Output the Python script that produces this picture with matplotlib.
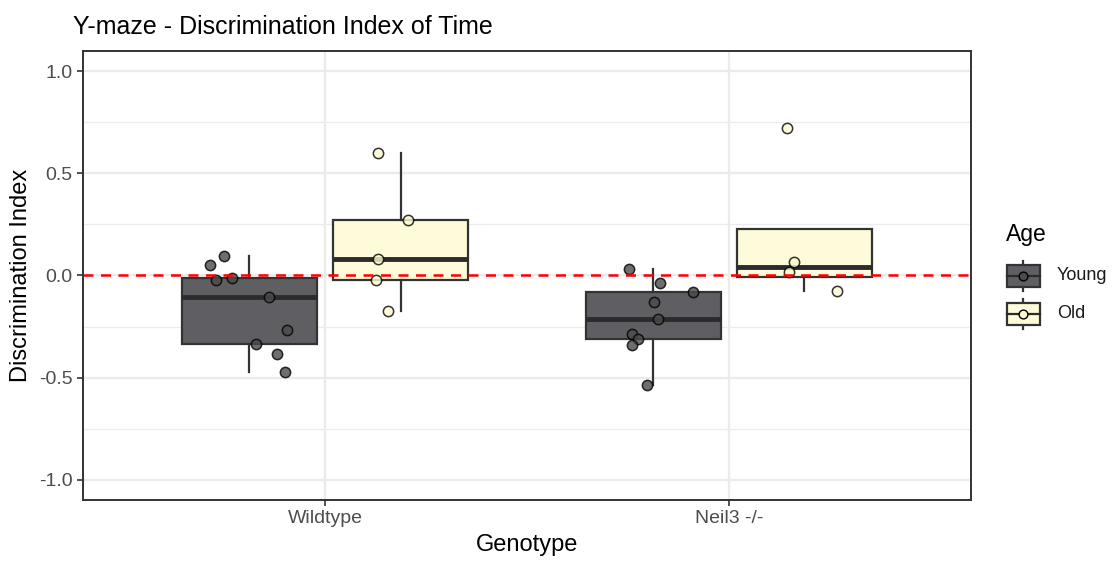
import matplotlib
matplotlib.use("Agg")
from matplotlib import pyplot as plt
from matplotlib.patches import Rectangle
import numpy as np

plt.rcParams['font.family'] = ['Liberation Sans', 'DejaVu Sans']

genotypes = ['Wildtype', 'Neil3 -/-']
ages = ['Young', 'Old']

# discrimination index per animal
wt_young = [0.050, 0.096, -0.021, -0.010, -0.106, -0.266, -0.334, -0.383, -0.475]
wt_old = [0.601, 0.273, 0.080, -0.023, -0.176]
neil_young = [0.034, -0.038, -0.083, -0.129, -0.214, -0.289, -0.310, -0.341, -0.537]
neil_old = [0.721, 0.064, 0.018, -0.075]

# horizontal jitter of each point (x units from genotype centre)
wt_young_jit = [-0.286, -0.251, -0.270, -0.231, -0.140, -0.094, -0.172, -0.119, -0.099]
wt_old_jit = [0.132, 0.206, 0.132, 0.127, 0.155]
neil_young_jit = [-0.247, -0.170, -0.089, -0.186, -0.176, -0.241, -0.224, -0.239, -0.203]
neil_old_jit = [0.145, 0.161, 0.150, 0.269]

groups = [
    (1, 'Young', wt_young, wt_young_jit),
    (1, 'Old', wt_old, wt_old_jit),
    (2, 'Young', neil_young, neil_young_jit),
    (2, 'Old', neil_old, neil_old_jit),
]

box_fill = {'Young': '#5f5f63', 'Old': '#fdfbd9'}
pt_fill = {'Young': '#4a4a4a', 'Old': '#fdfbd0'}
dodge = {'Young': -0.1875, 'Old': 0.1875}
edge = '#333333'

W, H = 1119, 561
fig = plt.figure(figsize=(W / 100, H / 100), dpi=100)
ax = fig.add_axes([83 / W, 1 - 500 / H, (971 - 83) / W, (500 - 51) / H])

for g, age, vals, jit in groups:
    pos = g + dodge[age]
    ax.boxplot([vals], positions=[pos], widths=0.335, whis=1.5,
               showfliers=False, showcaps=False, patch_artist=True,
               boxprops=dict(facecolor=box_fill[age], edgecolor=edge, linewidth=1.6),
               whiskerprops=dict(color=edge, linewidth=1.6),
               medianprops=dict(color='#2b2b2b', linewidth=3.5),
               zorder=3)

for g, age, vals, jit in groups:
    xs = g + np.array(jit)
    ax.scatter(xs, vals, s=55, facecolor=pt_fill[age], edgecolor='black',
               linewidth=1.1, alpha=0.8, zorder=5)

ax.axhline(0, color='#ff0000', linestyle=(0, (4, 3)), linewidth=1.8, zorder=6)

ax.set_xlim(0.4, 2.6)
ax.set_ylim(-1.1, 1.1)
ax.set_xticks([1, 2])
ax.set_xticklabels(genotypes)
ax.set_yticks([-1.0, -0.5, 0.0, 0.5, 1.0])
ax.set_yticklabels(['-1.0', '-0.5', '0.0', '0.5', '1.0'])
ax.set_yticks([-0.75, -0.25, 0.25, 0.75], minor=True)
ax.grid(True, which='major', color='#ebebeb', linewidth=1.6, zorder=0)
ax.grid(True, which='minor', axis='y', color='#ebebeb', linewidth=0.9, zorder=0)
ax.set_axisbelow(True)
ax.tick_params(axis='both', which='major', colors='#333333', labelcolor='#4d4d4d',
               labelsize=14, length=4, width=1.2)
ax.tick_params(axis='both', which='minor', length=0)
for s in ax.spines.values():
    s.set_color('#333333')
    s.set_linewidth(1.4)

ax.set_xlabel('Genotype', fontsize=17, labelpad=5)
ax.set_ylabel('Discrimination Index', fontsize=17, labelpad=5)
fig.text(73 / W, 1 - 34 / H, 'Y-maze - Discrimination Index of Time',
         fontsize=18, ha='left', va='baseline')

# legend drawn as small boxplot keys
fig.text(1006 / W, 1 - 234 / H, 'Age', fontsize=16.5, ha='left', va='center')
lax = fig.add_axes([1000 / W, 1 - 335 / H, 119 / W, 80 / H])
lax.set_xlim(1000, 1119)
lax.set_ylim(335, 255)
lax.axis('off')
for i, age in enumerate(ages):
    yc = 276 + 38 * i
    lax.plot([1023, 1023], [yc - 15, yc + 15], color=edge, lw=1.6, zorder=1)
    lax.add_patch(Rectangle((1007, yc - 11), 33, 22, facecolor=box_fill[age],
                            edgecolor=edge, lw=1.6, zorder=2))
    lax.plot([1007, 1040], [yc, yc], color='#2b2b2b', lw=1.6, zorder=3)
    lax.scatter([1023], [yc], s=40, facecolor=pt_fill[age], edgecolor='black',
                linewidth=1.0, zorder=4)
    lax.text(1057, yc, age, fontsize=13, ha='left', va='center', color='#1a1a1a')

fig.savefig('out.png', dpi=100)
